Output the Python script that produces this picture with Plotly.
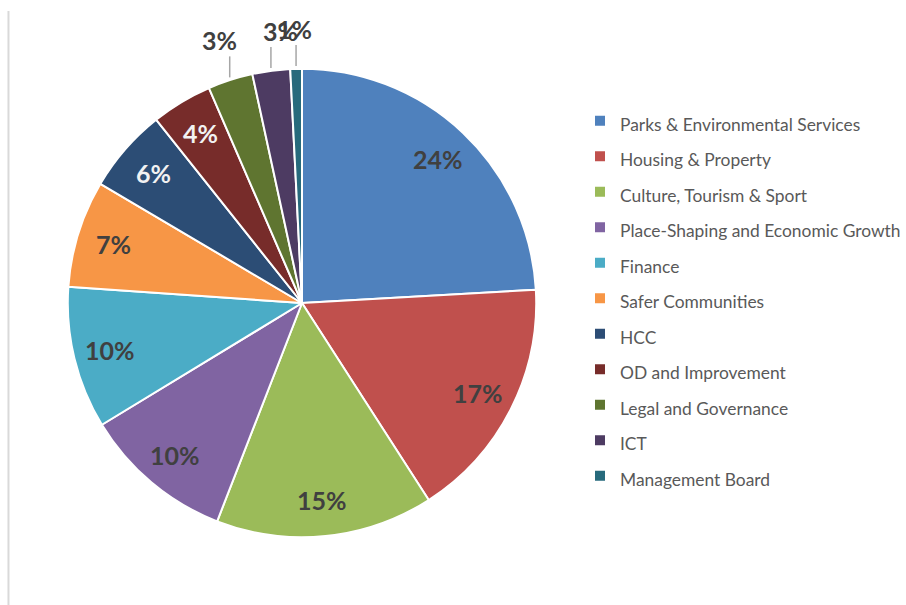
import math
import plotly.graph_objects as go

# Budget share by service area (percent of total)
categories = [
    "Parks & Environmental Services",
    "Housing & Property",
    "Culture, Tourism & Sport",
    "Place-Shaping and Economic Growth",
    "Finance",
    "Safer Communities",
    "HCC",
    "OD and Improvement",
    "Legal and Governance",
    "ICT",
    "Management Board",
]
shares = [24.1, 16.8, 15.0, 10.4, 9.8, 7.4, 5.8, 4.2, 3.1, 2.6, 0.8]

slice_colors = [
    "#4F81BD", "#C0504D", "#9BBB59", "#8064A2", "#4BACC6", "#F79646",
    "#2C4D75", "#772C2A", "#5F7530", "#4D3B62", "#276A7C",
]
label_colors = [
    "#404040", "#404040", "#404040", "#404040", "#404040", "#404040",
    "#F2F2F2", "#F2F2F2", "#404040", "#404040", "#404040",
]
# small slices get their label outside with a short leader line
outside = [False] * 8 + [True] * 3
outside_dx = [0] * 8 + [-10, 10, -2]

W, H = 906, 605
cx, cy, r = 303, 303, 235
label_r = 198
LABEL_FONT = dict(family="Lato", size=25, weight="bold")

# legend entries drawn at a smaller size than the row pitch
legend_labels = [f'<span style="font-size:17.4px">{c}</span>' for c in categories]

fig = go.Figure(
    go.Pie(
        labels=legend_labels,
        values=shares,
        sort=False,
        direction="clockwise",
        rotation=0,
        marker=dict(colors=slice_colors, line=dict(color="white", width=2)),
        textinfo="none",
        domain=dict(
            x=[(cx - r) / W, (cx + r) / W],
            y=[1 - (cy + r) / H, 1 - (cy - r) / H],
        ),
        hoverinfo="label+percent",
    )
)


def to_paper(px, py):
    return px / W, 1 - py / H


# percentage labels placed on each slice's mid-angle (clockwise from 12 o'clock)
total = sum(shares)
annotations = []
shapes = []
running = 0.0
for v, col, out, dx in zip(shares, label_colors, outside, outside_dx):
    mid = (running + v / 2) / total * 2 * math.pi
    running += v
    pct = f"{round(v / total * 100)}%"
    s, c = math.sin(mid), math.cos(mid)
    if not out:
        x, y = to_paper(cx + label_r * s, cy - label_r * c)
        annotations.append(dict(
            x=x, y=y, xref="paper", yref="paper", text=pct, showarrow=False,
            xanchor="center", yanchor="middle",
            font=dict(color=col, **LABEL_FONT),
        ))
    else:
        ex, ey = cx + (r + 2) * s, cy - (r + 2) * c
        top = ey - 21
        x0, y0 = to_paper(ex, ey)
        x1, y1 = to_paper(ex, top)
        shapes.append(dict(
            type="line", xref="paper", yref="paper", x0=x0, y0=y0, x1=x1, y1=y1,
            line=dict(color="#A6A6A6", width=1.5),
        ))
        lx, ly = to_paper(ex + dx, top - 16)
        annotations.append(dict(
            x=lx, y=ly, xref="paper", yref="paper", text=pct, showarrow=False,
            xanchor="center", yanchor="middle",
            font=dict(color=col, **LABEL_FONT),
        ))

# thin frame line on the left edge
shapes.append(dict(
    type="line", xref="paper", yref="paper",
    x0=8.5 / W, x1=8.5 / W, y0=0, y1=1 - 11 / H,
    line=dict(color="#D9D9D9", width=2),
))

fig.update_layout(
    width=W,
    height=H,
    margin=dict(l=0, r=0, t=0, b=0),
    paper_bgcolor="white",
    plot_bgcolor="white",
    showlegend=True,
    legend=dict(
        x=582 / W,
        xanchor="left",
        y=1 - 98 / H,
        yanchor="top",
        font=dict(family="Lato", size=25, color="#595959"),
        bgcolor="rgba(0,0,0,0)",
    ),
    annotations=annotations,
    shapes=shapes,
)

fig.write_html("out.html")
